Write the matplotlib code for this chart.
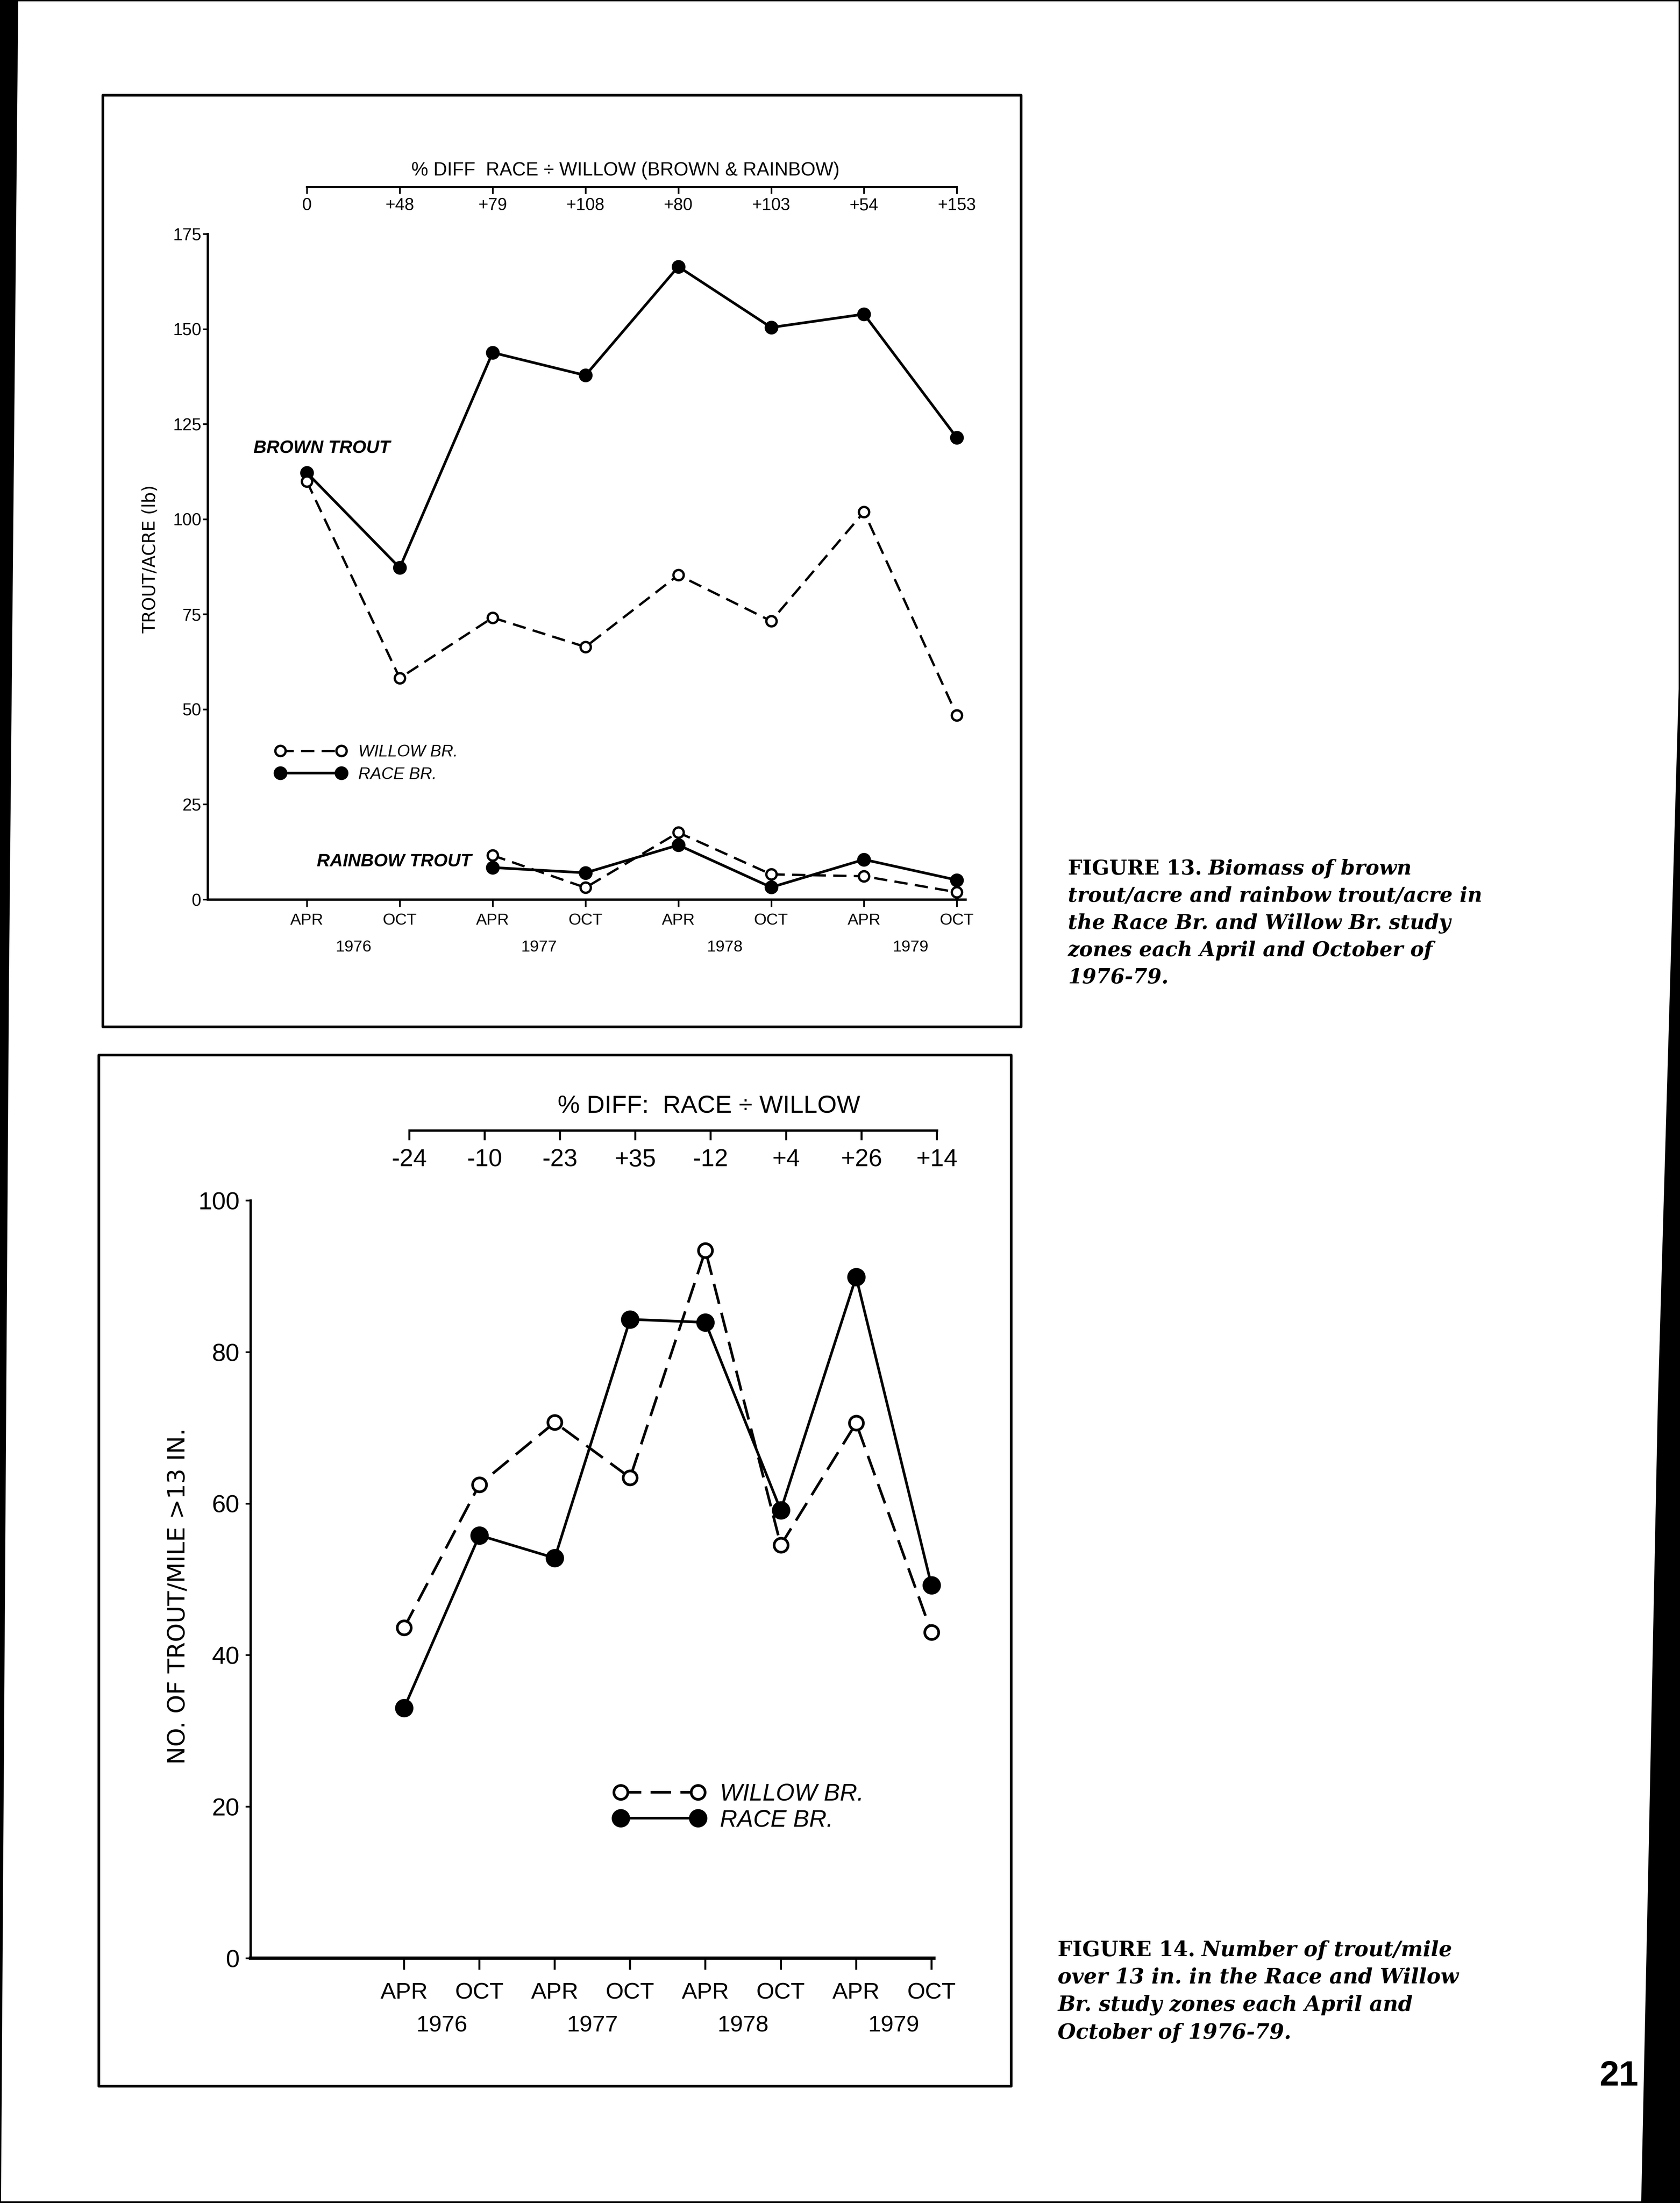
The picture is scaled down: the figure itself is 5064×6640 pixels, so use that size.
import numpy as np
import matplotlib
matplotlib.use("Agg")
import matplotlib.pyplot as plt
from matplotlib.patches import Rectangle, Polygon

# ---------------- data ----------------
months = ["APR", "OCT", "APR", "OCT", "APR", "OCT", "APR", "OCT"]
years = ["1976", "1977", "1978", "1979"]

fig13_diff = ["0", "+48", "+79", "+108", "+80", "+103", "+54", "+153"]
brown_race = [112.2, 87.2, 143.8, 137.8, 166.4, 150.4, 153.9, 121.4]
brown_willow = [109.9, 58.2, 74.1, 66.4, 85.3, 73.2, 101.9, 48.4]
rainbow_race = [np.nan, np.nan, 8.4, 7.0, 14.3, 3.2, 10.5, 5.1]
rainbow_willow = [np.nan, np.nan, 11.6, 3.1, 17.6, 6.6, 6.1, 1.9]
yticks13 = [0, 25, 50, 75, 100, 125, 150, 175]

fig14_diff = ["-24", "-10", "-23", "+35", "-12", "+4", "+26", "+14"]
large_race = [33.0, 55.8, 52.8, 84.3, 83.9, 59.1, 89.9, 49.2]
large_willow = [43.6, 62.5, 70.7, 63.4, 93.4, 54.5, 70.6, 43.0]
yticks14 = [0, 20, 40, 60, 80, 100]

series_labels = ["WILLOW BR.", "RACE BR."]

caption13_label = "FIGURE 13."
caption13 = ["Biomass of brown",
             "trout/acre and rainbow trout/acre in",
             "the Race Br. and Willow Br. study",
             "zones each April and October of",
             "1976-79."]
caption14_label = "FIGURE 14."
caption14 = ["Number of trout/mile",
             "over 13 in. in the Race and Willow",
             "Br. study zones each April and",
             "October of 1976-79."]
page_number = "21"

# ---------------- setup ----------------
W, H, DPI = 5064, 6640, 100


def pt(px):
    return px * 72.0 / DPI


plt.rcParams['font.family'] = ['Liberation Sans', 'DejaVu Sans']
plt.rcParams['lines.scale_dashes'] = False
plt.rcParams['axes.unicode_minus'] = False

fig = plt.figure(figsize=(W / DPI, H / DPI), dpi=DPI)
fig.patch.set_facecolor('white')

bg = fig.add_axes([0, 0, 1, 1], zorder=0)
bg.set_xlim(0, W)
bg.set_ylim(H, 0)
bg.axis('off')


def px_axes(left, top, right, bottom, zorder=2):
    a = fig.add_axes([left / W, 1 - bottom / H, (right - left) / W, (bottom - top) / H],
                     zorder=zorder)
    a.patch.set_visible(False)
    return a


x = np.arange(len(months))
xyear = x[::2] + 0.5

# ---------------- page decorations ----------------
bg.add_patch(Rectangle((0, 0), W, 4, color='black', lw=0))
bg.add_patch(Rectangle((0, H - 5), W, 5, color='black', lw=0))
bg.add_patch(Polygon([(0, 0), (55, 0), (27, 2964), (3, H), (0, H)], closed=True,
                     color='black', lw=0))
bg.add_patch(Polygon([(5060, 0), (W, 0), (W, H), (4947, H), (4971, 5508), (4997, 4237),
                      (5034, 2966), (5060, 2076)], closed=True, color='black', lw=0))
bg.add_patch(Rectangle((310, 287), 3078 - 310, 3095 - 287, fill=False, ec='black',
                       lw=pt(8), joinstyle='round'))
bg.add_patch(Rectangle((298, 3180), 3048 - 298, 6288 - 3180, fill=False, ec='black',
                       lw=pt(8), joinstyle='round'))

# ---------------- FIGURE 13 ----------------
x0_13, dx_13 = 925.0, 279.9
L13, R13, T13, B13 = 626, 2910, 705, 2711
xlim13 = ((L13 - x0_13) / dx_13, (R13 - x0_13) / dx_13)

ax1 = px_axes(L13, T13, R13, B13)
ax1.set_xlim(*xlim13)
ax1.set_ylim(0, 175)
for s in ('top', 'right'):
    ax1.spines[s].set_visible(False)
ax1.spines['left'].set_linewidth(pt(7))
ax1.spines['bottom'].set_linewidth(pt(7))
ax1.set_yticks(yticks13)
ax1.set_yticklabels([str(v) for v in yticks13])
ax1.tick_params(axis='y', direction='out', length=pt(15), width=pt(5), pad=pt(4),
                labelsize=37)
ax1.set_xticks(x)
ax1.set_xticklabels(months)
ax1.set_xticks(xyear, minor=True)
ax1.set_xticklabels(years, minor=True)
ax1.tick_params(axis='x', which='major', direction='out', length=pt(22), width=pt(5),
                pad=pt(19), labelsize=35)
ax1.tick_params(axis='x', which='minor', length=0, pad=pt(122), labelsize=35)

race13 = dict(color='black', lw=pt(8), marker='o', ms=pt(40), mfc='black', mec='black',
              ls='-', clip_on=False, zorder=3)
willow13 = dict(color='black', lw=pt(7), marker='o', ms=pt(31), mfc='white', mec='black',
                mew=pt(7), dashes=(pt(40), pt(22)), clip_on=False, zorder=4)
l_race, = ax1.plot(x, brown_race, **race13)
l_will, = ax1.plot(x, brown_willow, **willow13)
ax1.plot(x, rainbow_race, **race13)
ax1.plot(x, rainbow_willow, **willow13)

ax1.set_ylabel("TROUT/ACRE (lb)", fontsize=38, family=['DejaVu Sans'])
ax1.yaxis.set_label_coords((453 - L13) / (R13 - L13), (B13 - 1685) / (B13 - T13))
ax1.yaxis.label.set_va('center')

ax1.legend([l_will, l_race], series_labels, numpoints=2, frameon=False,
           prop=dict(family='Liberation Sans', style='italic', size=36),
           handlelength=4.28, handletextpad=0.72, labelspacing=0.43,
           borderpad=0, borderaxespad=0, loc='center left',
           bbox_to_anchor=(830 / W, 1 - 2301 / H), bbox_transform=fig.transFigure)

bg.text(764, 1352, "BROWN TROUT", ha='left', va='center', fontsize=39,
        style='italic', weight='bold')
bg.text(1421, 2597, "RAINBOW TROUT", ha='right', va='center', fontsize=39,
        style='italic', weight='bold')

tp = px_axes(L13, 470, R13, 564)
tp.set_xlim(*xlim13)
tp.set_ylim(0, 1)
for s in ('top', 'right', 'left'):
    tp.spines[s].set_visible(False)
tp.spines['bottom'].set_bounds(x[0], x[-1])
tp.spines['bottom'].set_linewidth(pt(6))
tp.set_yticks([])
tp.set_xticks(x)
tp.set_xticklabels(fig13_diff)
tp.tick_params(axis='x', direction='out', length=pt(20), width=pt(5), pad=pt(12),
               labelsize=37)
bg.text(1885, 514, "% DIFF  RACE \u00f7 WILLOW (BROWN & RAINBOW)", ha='center',
        va='center', fontsize=41)

# ---------------- FIGURE 14 ----------------
x0_14, dx_14 = 1218.0, 227.1
L14, R14, T14, B14 = 755, 2815, 3618, 5902
xlim14 = ((L14 - x0_14) / dx_14, (R14 - x0_14) / dx_14)

ax2 = px_axes(L14, T14, R14, B14)
ax2.set_xlim(*xlim14)
ax2.set_ylim(0, 100)
for s in ('top', 'right'):
    ax2.spines[s].set_visible(False)
ax2.spines['left'].set_linewidth(pt(7))
ax2.spines['bottom'].set_linewidth(pt(10))
ax2.set_yticks(yticks14)
ax2.set_yticklabels([str(v) for v in yticks14])
ax2.tick_params(axis='y', direction='out', length=pt(15), width=pt(5), pad=pt(18),
                labelsize=54)
ax2.set_xticks(x)
ax2.set_xticklabels(months)
ax2.set_xticks(xyear, minor=True)
ax2.set_xticklabels(years, minor=True)
ax2.tick_params(axis='x', which='major', direction='out', length=pt(35), width=pt(6),
                pad=pt(37), labelsize=50)
ax2.tick_params(axis='x', which='minor', length=0, pad=pt(171), labelsize=50)

race14 = dict(color='black', lw=pt(8), marker='o', ms=pt(54), mfc='black', mec='black',
              ls='-', clip_on=False, zorder=3)
willow14 = dict(color='black', lw=pt(8), marker='o', ms=pt(42), mfc='white', mec='black',
                mew=pt(8), dashes=(pt(62), pt(28)), clip_on=False, zorder=4)
m_race, = ax2.plot(x, large_race, **race14)
m_will, = ax2.plot(x, large_willow, **willow14)

ax2.set_ylabel("NO. OF TROUT/MILE >13 IN.", fontsize=52, family=['DejaVu Sans'])
ax2.yaxis.set_label_coords((538 - L14) / (R14 - L14), (B14 - 4811) / (B14 - T14))
ax2.yaxis.label.set_va('center')

ax2.legend([m_will, m_race], series_labels, numpoints=2, frameon=False,
           prop=dict(family='Liberation Sans', style='italic', size=52),
           handlelength=3.83, handletextpad=0.61, labelspacing=0.14,
           borderpad=0, borderaxespad=0, loc='center left',
           bbox_to_anchor=(1849 / W, 1 - 5447 / H), bbox_transform=fig.transFigure)

bp = px_axes(L14 + 16, 3300, R14 + 16, 3407)
bp.set_xlim(*xlim14)
bp.set_ylim(0, 1)
for s in ('top', 'right', 'left'):
    bp.spines[s].set_visible(False)
bp.spines['bottom'].set_bounds(x[0], x[-1])
bp.spines['bottom'].set_linewidth(pt(7))
bp.set_yticks([])
bp.set_xticks(x)
bp.set_xticklabels(fig14_diff)
bp.tick_params(axis='x', direction='out', length=pt(30), width=pt(6), pad=pt(24),
               labelsize=53)
bg.text(2137, 3334, "% DIFF:  RACE \u00f7 WILLOW", ha='center', va='center', fontsize=54)

# ---------------- captions ----------------
renderer = fig.canvas.get_renderer()


def text_w(t):
    return t.get_window_extent(renderer=renderer).width


def caption(label, lines, x0, y0, dy, ref_line, ref_width):
    cf = dict(family='DejaVu Serif', weight='bold', color='black')
    probe = bg.text(0, 0, lines[ref_line], fontsize=40, style='italic', **cf)
    size = 40 * ref_width / text_w(probe)
    probe.remove()
    head = bg.text(x0, y0, label, fontsize=size, va='center', ha='left', **cf)
    hw = text_w(head) + 0.3 * size * DPI / 72
    bg.text(x0 + hw, y0, lines[0], fontsize=size, style='italic', va='center',
            ha='left', **cf)
    for i, ln in enumerate(lines[1:], 1):
        bg.text(x0, y0 + i * dy, ln, fontsize=size, style='italic', va='center',
                ha='left', **cf)


caption(caption13_label, caption13, 3219, 2619, 82, 1, 1247)
caption(caption14_label, caption14, 3188, 5878, 83, 1, 1209)

bg.text(4880, 6258, page_number, ha='center', va='center', fontsize=76, weight='bold',
        family=['Liberation Sans'])

fig.savefig('out.png', dpi=DPI, facecolor='white')
